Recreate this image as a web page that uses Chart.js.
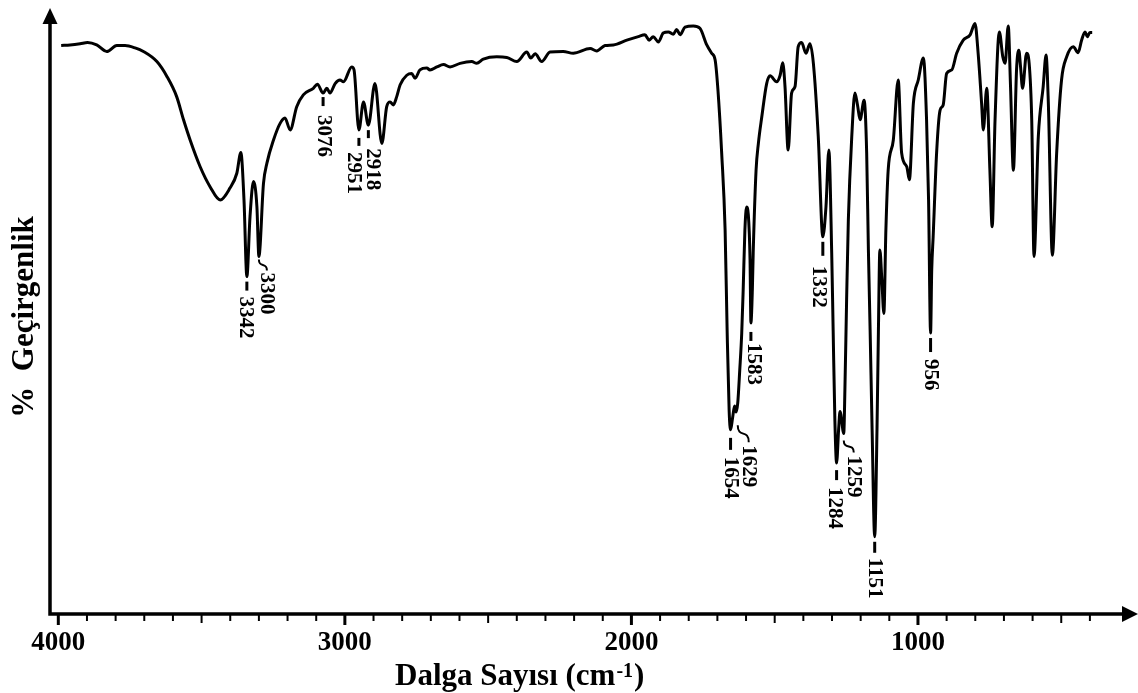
<!DOCTYPE html>
<html>
<head>
<meta charset="utf-8">
<script src="https://cdn.jsdelivr.net/npm/chart.js@4.4.0/dist/chart.umd.min.js"></script>
<style>
  html, body { margin: 0; padding: 0; background: #fff; }
  #chart { display: block; }
</style>
</head>
<body>
<canvas id="chart" width="1138" height="693"></canvas>
<script>
// IR spectrum (wavenumber in cm-1, transmittance in %)
const wavenumbers = [
  3990, 3959, 3924, 3898, 3866, 3831, 3796, 3767, 3732, 3703, 3656, 3621, 3587, 3563, 3540, 3505,
  3470, 3435, 3401, 3377, 3363, 3352, 3342, 3331, 3319, 3307, 3300, 3284, 3272, 3249, 3226, 3209,
  3191, 3168, 3145, 3110, 3096, 3076, 3063, 3052, 3034, 3017, 3005, 2976, 2968, 2951, 2935, 2918,
  2895, 2871, 2854, 2842, 2831, 2819, 2807, 2784, 2767, 2755, 2738, 2714, 2703, 2679, 2656, 2633,
  2598, 2557, 2540, 2517, 2470, 2435, 2400, 2365, 2351, 2336, 2313, 2284, 2238, 2203, 2144, 2121,
  2092, 2063, 2016, 1976, 1953, 1938, 1924, 1906, 1889, 1871, 1854, 1842, 1830, 1813, 1784, 1761,
  1737, 1720, 1708, 1698, 1685, 1673, 1666, 1659, 1654, 1647, 1640, 1635, 1629, 1622, 1615, 1610,
  1604, 1598, 1592, 1586, 1583, 1578, 1575, 1565, 1557, 1545, 1528, 1516, 1493, 1481, 1472, 1464,
  1453, 1441, 1429, 1418, 1406, 1391, 1377, 1365, 1348, 1332, 1321, 1311, 1301, 1296, 1290, 1284,
  1277, 1272, 1259, 1255, 1249, 1243, 1231, 1220, 1211, 1202, 1188, 1179, 1173, 1167, 1160, 1151,
  1143, 1138, 1133, 1126, 1119, 1112, 1104, 1086, 1069, 1057, 1039, 1030, 1016, 999, 981, 970,
  963, 956, 952, 947, 935, 923, 912, 900, 882, 865, 842, 818, 801, 790, 778, 772,
  760, 749, 741, 731, 716, 704, 696, 685, 677, 667, 656, 648, 642, 635, 621, 612,
  603, 595, 580, 563, 553, 545, 531, 516, 499, 481, 458, 441, 429, 417, 409, 400,
  392
];
const transmittance = [
  95.7, 95.8, 96.0, 96.2, 95.8, 94.7, 95.7, 95.7, 95.3, 94.7, 93.0, 90.5, 87.1, 83.2, 79.8, 75.3,
  71.9, 69.7, 71.7, 74.2, 77.7, 69.7, 56.8, 66.9, 72.8, 68.6, 60.2, 72.5, 75.9, 79.8, 82.6, 83.5,
  81.5, 85.4, 87.4, 88.5, 89.2, 87.7, 88.5, 87.7, 89.3, 89.9, 89.6, 92.1, 91.6, 81.5, 86.2, 82.3,
  89.3, 79.2, 85.4, 86.2, 85.7, 87.1, 89.1, 90.7, 91.0, 90.2, 91.6, 91.9, 91.6, 92.1, 92.5, 92.1,
  92.7, 93.0, 92.7, 93.4, 93.8, 93.7, 93.0, 94.6, 93.6, 94.3, 93.0, 94.6, 94.7, 94.4, 95.2, 94.8,
  95.7, 95.8, 96.6, 97.2, 97.5, 96.6, 97.2, 96.3, 97.8, 98.0, 97.6, 98.4, 97.5, 98.8, 99.0, 98.6,
  95.8, 94.4, 93.3, 88.2, 77.6, 64.6, 47.8, 34.3, 31.0, 33.0, 35.0, 34.0, 35.5, 41.0, 47.3, 54.5,
  64.6, 68.5, 67.2, 59.6, 49.0, 54.5, 60.8, 74.7, 79.2, 83.7, 89.3, 90.6, 89.6, 90.7, 92.8, 88.8,
  78.1, 87.7, 88.8, 95.5, 96.2, 94.4, 96.0, 92.7, 80.4, 63.5, 68.6, 78.1, 60.7, 47.8, 32.7, 25.4,
  31.0, 34.1, 30.4, 37.7, 52.9, 66.3, 80.4, 87.7, 85.7, 83.2, 86.5, 77.6, 61.3, 47.8, 31.0, 13.0,
  31.0, 47.8, 61.3, 56.2, 50.6, 64.6, 74.7, 79.8, 89.9, 77.6, 75.3, 73.1, 86.0, 89.9, 93.6, 83.2,
  69.7, 47.3, 57.9, 63.5, 77.6, 84.8, 85.7, 91.0, 91.6, 94.4, 96.6, 97.5, 99.4, 94.4, 86.0, 81.5,
  88.5, 74.7, 65.2, 83.2, 98.0, 93.8, 92.7, 99.0, 88.8, 74.7, 91.6, 94.9, 92.1, 88.5, 94.4, 92.7,
  83.2, 60.2, 80.4, 88.8, 94.1, 86.0, 60.4, 77.6, 89.9, 93.8, 95.5, 94.5, 96.6, 98.0, 97.2, 97.9,
  97.9
];
const xTickLabels = [4000, 3000, 2000, 1000];

// peak annotations
const peakWavenumbers = [3342, 3300, 3076, 2951, 2918, 1654, 1629, 1583, 1332, 1284, 1259, 1151, 956];
const peakTexts = ['3342', '3300', '3076', '2951', '2918', '1654', '1629', '1583', '1332', '1284', '1259', '1151', '956'];
const peakMarks = ['-', '~', '-', '-', '-', '-', '~', '-', '-', '-', '~', '-', '-'];

// label layout (px): text shift, mark start below the peak, mark length, gap before the number
const labelDx = [-1, 8, 0, -5, 4, 0, 11, 3, -4, -2, 10, 0, 0];
const labelDy = [5, 3, 4, 8, 5, 8, 22, 9, 5, 7, 7, 5, 5];
const dashLen = [9, 11, 9, 8, 8, 12, 17, 9, 14, 10, 12, 11, 14];
const textGap = [6, 2, 9, 6, 10, 7, 3, 2, 10, 7, 3, 5, 7];

const FONT = "'Liberation Serif', 'Times New Roman', serif";

const decor = {
  id: 'decor',
  afterDraw(chart) {
    const { ctx, chartArea: a, scales: { x, y } } = chart;
    ctx.save();
    ctx.strokeStyle = '#000';
    ctx.fillStyle = '#000';

    // axes with arrows
    ctx.lineWidth = 3.5;
    ctx.lineCap = 'square';
    ctx.lineJoin = 'miter';
    ctx.beginPath();
    ctx.moveTo(a.left, a.top);
    ctx.lineTo(a.left, a.bottom);
    ctx.lineTo(a.right, a.bottom);
    ctx.stroke();
    ctx.beginPath();
    ctx.moveTo(a.left, 8);
    ctx.lineTo(a.left - 7.5, 24);
    ctx.lineTo(a.left + 7.5, 24);
    ctx.closePath();
    ctx.fill();
    ctx.beginPath();
    ctx.moveTo(chart.width, a.bottom);
    ctx.lineTo(a.right - 2, a.bottom - 8);
    ctx.lineTo(a.right - 2, a.bottom + 8);
    ctx.closePath();
    ctx.fill();

    // tick marks every 100, longer at 500 and 1000
    ctx.lineCap = 'butt';
    for (let v = 400; v <= 4000; v += 100) {
      const px = x.getPixelForValue(v);
      const major = v % 1000 === 0;
      const mid = v % 500 === 0;
      ctx.lineWidth = major ? 3 : 2;
      ctx.beginPath();
      ctx.moveTo(px, a.bottom);
      ctx.lineTo(px, a.bottom + (major ? 11 : mid ? 9 : 7));
      ctx.stroke();
    }

    // x axis title with superscript
    ctx.textAlign = 'left';
    ctx.textBaseline = 'alphabetic';
    ctx.font = `bold 31px ${FONT}`;
    const main = 'Dalga Sayısı (cm';
    let tx = 395;
    ctx.fillText(main, tx, 685);
    tx += ctx.measureText(main).width + 1;
    ctx.font = `bold 20px ${FONT}`;
    ctx.fillText('-1', tx, 677);
    tx += ctx.measureText('-1').width + 1;
    ctx.font = `bold 31px ${FONT}`;
    ctx.fillText(')', tx, 685);

    // peak labels, rotated
    ctx.font = `bold 21px ${FONT}`;
    ctx.textBaseline = 'middle';
    peakWavenumbers.forEach((wn, i) => {
      const idx = wavenumbers.indexOf(wn);
      const x0 = x.getPixelForValue(wn);
      const py = y.getPixelForValue(transmittance[idx]) + labelDy[i];
      const px = x0 + labelDx[i];
      const len = dashLen[i];
      ctx.lineCap = 'butt';
      if (peakMarks[i] === '-') {
        ctx.lineWidth = 3;
        ctx.beginPath();
        ctx.moveTo(x0, py);
        ctx.lineTo(x0, py + len);
        ctx.stroke();
      } else {
        // small S hook from the peak over to the shifted number
        ctx.lineWidth = 2;
        ctx.beginPath();
        ctx.moveTo(x0, py);
        ctx.bezierCurveTo(x0, py + len * 0.8, px, py + len * 0.2, px, py + len);
        ctx.stroke();
      }
      ctx.save();
      ctx.translate(px, py + len + textGap[i]);
      ctx.rotate(Math.PI / 2);
      ctx.fillText(peakTexts[i], 0, 0);
      ctx.restore();
    });
    ctx.restore();
  }
};

new Chart(document.getElementById('chart'), {
  type: 'line',
  data: {
    datasets: [{
      data: wavenumbers.map((w, i) => ({ x: w, y: transmittance[i] })),
      borderColor: '#000',
      borderWidth: 3,
      pointRadius: 0,
      fill: false,
      cubicInterpolationMode: 'monotone'
    }]
  },
  options: {
    responsive: false,
    animation: false,
    devicePixelRatio: 1,
    layout: { padding: { top: 20, right: 14, bottom: 0, left: 0 } },
    plugins: { legend: { display: false }, tooltip: { enabled: false } },
    scales: {
      x: {
        type: 'linear',
        reverse: true,
        min: 281,
        max: 4029,
        afterBuildTicks: (s) => { s.ticks = xTickLabels.map((v) => ({ value: v })); },
        afterFit: (s) => { s.height = 79; },
        grid: { display: false, drawTicks: false },
        border: { display: false },
        ticks: {
          autoSkip: false,
          maxRotation: 0,
          padding: 13,
          color: '#000',
          font: { family: FONT, weight: 'bold', size: 27 },
          callback: (v) => String(v)
        }
      },
      y: {
        min: 0,
        max: 100,
        afterFit: (s) => { s.width = 50; },
        grid: { display: false, drawTicks: false },
        border: { display: false },
        ticks: { display: false },
        title: {
          display: true,
          text: '%  Geçirgenlik',
          color: '#000',
          font: { family: FONT, weight: 'bold', size: 31, lineHeight: 1 },
          padding: { top: 9, bottom: 0 }
        }
      }
    }
  },
  plugins: [decor]
});
</script>
</body>
</html>
